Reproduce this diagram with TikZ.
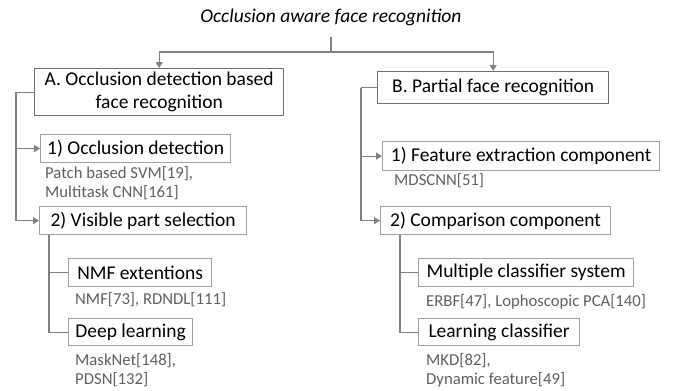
\documentclass[tikz,border=0pt]{standalone}
\usepackage{fontspec}
\setmainfont{Carlito}
\usepackage{xcolor}
\usepackage{tikz}
\usetikzlibrary{arrows.meta,shapes}

\definecolor{linegray}{RGB}{128,128,128}
\definecolor{boxgray}{RGB}{112,112,112}
\definecolor{subgray}{RGB}{160,160,160}
\definecolor{refgray}{RGB}{95,95,95}

\begin{document}
\begin{tikzpicture}[x=1pt,y=-1pt,
    line/.style={draw=linegray, line width=1.2pt},
    arr/.style={line, -{Triangle[length=6pt,width=7pt]}},
    mainbox/.style={draw=boxgray, line width=1.4pt, inner sep=0pt, anchor=north west,
        font=\fontsize{19.5}{23}\selectfont, align=center},
    subbox/.style={mainbox, draw=subgray, line width=1.2pt},
    refs/.style={anchor=north west, inner sep=0pt, align=left, text=refgray,
        font=\fontsize{16.7}{19}\selectfont}]
    \useasboundingbox (0,0) rectangle (675,391);
    % title and first split
    \node[anchor=base, inner sep=0pt, inner ysep=11pt, font=\fontsize{19.5}{23}\itshape] (title) at (331,22) {Occlusion aware face recognition};
    \coordinate (fork) at (331,52);
    \node[mainbox, minimum width=249, minimum height=47] (A) at (34,68) {A. Occlusion detection based\\face recognition};
    \node[mainbox, minimum width=231, minimum height=32] (B) at (377,71) {B. Partial face recognition};
    \draw[line] (title.south) -- (fork);
    \draw[arr] (fork) -| (A);
    \draw[arr] (fork) -| (B);
    % A branch
    \node[subbox, minimum width=190, minimum height=28] (A1) at (40,134) {1) Occlusion detection};
    \node[refs] (A1r) at (45,166) {Patch based SVM[19],\\Multitask CNN[161]};
    \node[subbox, minimum width=207, minimum height=28] (A2) at (39,206) {2) Visible part selection};
    \node[subbox, minimum width=143, minimum height=28] (A2a) at (68,258) {NMF extentions};
    \node[refs] (A2ar) at (75,292) {NMF[73], RDNDL[111]};
    \node[subbox, minimum width=124, minimum height=27] (A2b) at (68,318) {Deep learning};
    \node[refs] (A2br) at (75,353) {MaskNet[148],\\PDSN[132]};
    \draw[line] (A.west) -- ++(-18,0) coordinate (aspine);
    \draw[arr] (aspine) |- (A1);
    \draw[arr] (aspine) |- (A2);
    \draw[line] ([xshift=10pt]A2.south west) |- (A2a.west);
    \draw[line] ([xshift=10pt]A2.south west) |- (A2b.west);
    % B branch
    \node[subbox, minimum width=277, minimum height=29] (B1) at (382,141) {1) Feature extraction component};
    \node[refs] (B1r) at (394,173) {MDSCNN[51]};
    \node[subbox, minimum width=230, minimum height=28] (B2) at (380,206) {2) Comparison component};
    \node[subbox, minimum width=215, minimum height=28] (B2a) at (418,258) {Multiple classifier system};
    \node[refs] (B2ar) at (426,294) {ERBF[47], Lophoscopic PCA[140]};
    \node[subbox, minimum width=161, minimum height=27] (B2b) at (418,318) {Learning classifier};
    \node[refs] (B2br) at (426,353) {MKD[82],\\Dynamic feature[49]};
    \draw[line] (B.west) -- ++(-16,0) coordinate (bspine);
    \draw[arr] (bspine) |- (B1);
    \draw[arr] (bspine) |- (B2);
    \draw[line] ([xshift=20pt]B2.south west) |- (B2a.west);
    \draw[line] ([xshift=20pt]B2.south west) |- (B2b.west);
\end{tikzpicture}
\end{document}
